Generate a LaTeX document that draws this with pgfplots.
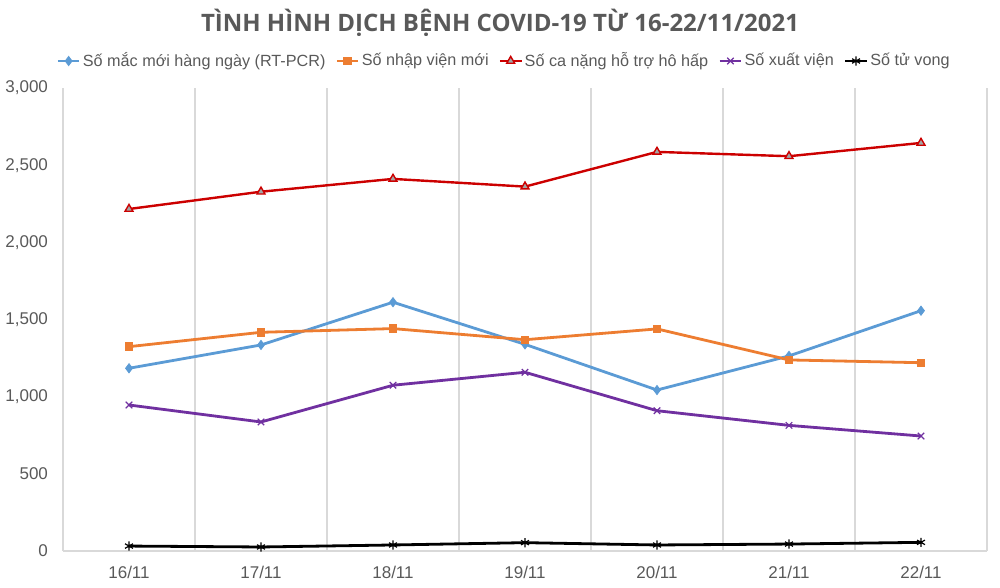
\documentclass[border=0pt]{standalone}
\usepackage{pgfplots}
\usepackage{pgfplotstable}
\pgfplotsset{compat=1.18}
\usepackage{fontspec}
\setmainfont{Liberation Sans}
\newfontfamily\titlefont{Open Sans}

\definecolor{cblue}{HTML}{5B9BD5}
\definecolor{corange}{HTML}{ED7D31}
\definecolor{cred}{HTML}{CC0000}
\definecolor{cpurple}{HTML}{7030A0}
\definecolor{tfill}{HTML}{A5A5A5}
\definecolor{gridgray}{HTML}{D9D9D9}
\definecolor{txtgray}{HTML}{595959}

% day  new-cases  hospitalised  severe  discharged  deaths
\pgfplotstableread{
x  moi   nhap  nang  xuat  tuvong
0  1184  1324  2216  946   32
1  1335  1417  2328  836   26
2  1612  1441  2411  1074  39
3  1339  1369  2361  1158  54
4  1043  1439  2586  909   39
5  1264  1238  2558  814   45
6  1557  1220  2644  745   56
}\covid

\begin{document}
\begin{tikzpicture}
\path[use as bounding box] (0,0) rectangle (500pt,294pt);
\node[font=\titlefont\bfseries\fontsize{12}{14}\selectfont, text=txtgray] at (250pt,282.5pt)
  {TÌNH HÌNH DỊCH BỆNH COVID-19 TỪ 16-22/11/2021};
\begin{axis}[
  at={(31.5pt,18.5pt)}, anchor=south west,
  scale only axis, width=462pt, height=231.5pt,
  xmin=-0.5, xmax=6.5, ymin=0, ymax=3000,
  xtick={0,...,6},
  xticklabels={16/11,17/11,18/11,19/11,20/11,21/11,22/11},
  minor xtick={-0.5,0.5,...,6.5},
  xminorgrids, minor grid style={draw=gridgray, line width=0.8pt},
  ytick={0,500,...,3000},
  scaled y ticks=false,
  yticklabel style={/pgf/number format/1000 sep={,}, xshift=-4pt},
  /pgf/number format/assume math mode=true,
  axis lines*=left,
  x axis line style={draw=gridgray, line width=0.8pt, -},
  y axis line style={draw=none},
  major tick length=0pt, minor tick length=0pt,
  tick label style={font=\fontsize{8.5}{10}\selectfont, text=txtgray},
  xticklabel style={yshift=-4pt},
  legend columns=5,
  legend cell align=left,
  legend style={draw=none, fill=none, font=\fontsize{8.1}{10}\selectfont, text=txtgray,
    at={(0.5,1)}, anchor=center, xshift=-10.5pt, yshift=13.5pt,
    nodes={inner xsep=1pt},
    /tikz/every even column/.append style={column sep=4pt},
    /tikz/every odd column/.append style={column sep=0pt}},
  legend image code/.code={\draw[mark repeat=2, mark phase=2]
    plot coordinates {(0cm,0cm)(0.19cm,0cm)(0.38cm,0cm)};},
  every axis plot/.append style={line width=1.4pt},
]
\addplot[cblue, mark=diamond*, mark size=2.3pt, mark options={solid, line width=0.4pt}]
  table[x=x, y=moi] {\covid};
\addlegendentry{Số mắc mới hàng ngày (RT-PCR)}
\addplot[corange, mark=square*, mark size=1.9pt, mark options={solid, line width=0.4pt}]
  table[x=x, y=nhap] {\covid};
\addlegendentry{Số nhập viện mới}
\addplot[cred, line width=1.2pt, mark=triangle*, mark size=2.3pt,
  mark options={solid, fill=tfill, draw=cred, line width=0.7pt}]
  table[x=x, y=nang] {\covid};
\addlegendentry{Số ca nặng hỗ trợ hô hấp}
\addplot[cpurple, mark=x, mark size=2.3pt, mark options={solid, line width=0.6pt}]
  table[x=x, y=xuat] {\covid};
\addlegendentry{Số xuất viện}
\addplot[black, mark=asterisk, mark size=2.3pt, mark options={solid, line width=0.6pt}]
  table[x=x, y=tuvong] {\covid};
\addlegendentry{Số tử vong}
\end{axis}
\end{tikzpicture}
\end{document}
